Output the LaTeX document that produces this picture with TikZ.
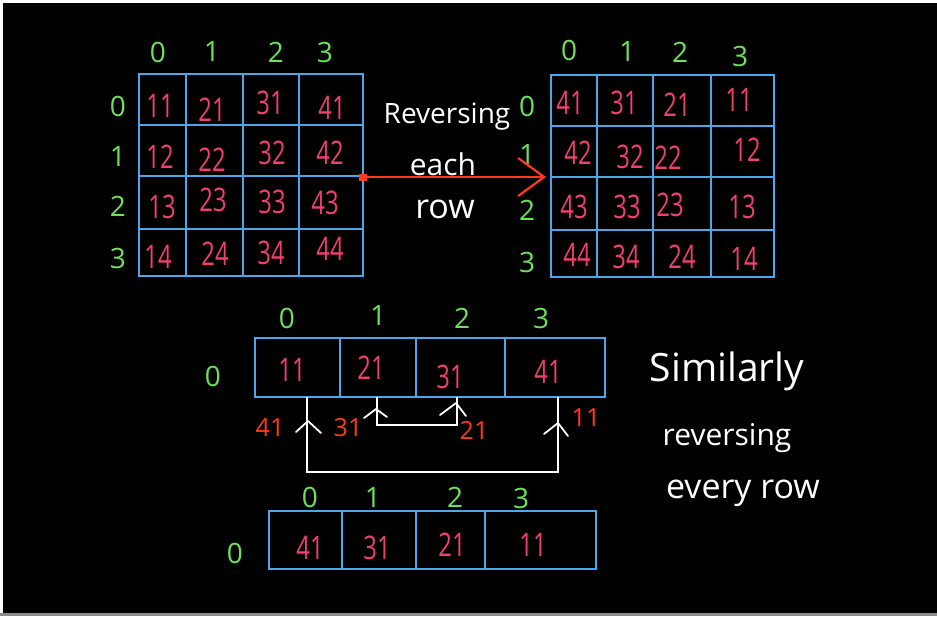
\documentclass[tikz,border=0pt]{standalone}
\usepackage{fontspec}
\setmainfont{Open Sans}
\usetikzlibrary{arrows.meta}
\definecolor{bluec}{HTML}{4DA6E8}
\definecolor{pinkc}{HTML}{F0406E}
\definecolor{greenc}{HTML}{6EE05A}
\definecolor{redc}{HTML}{FF3A1A}
\newcommand\tallnum[1]{\scalebox{0.95}[1.3]{#1}}
\newcommand\fsz[1]{\fontsize{#1}{#1}\selectfont}
\begin{document}
\begin{tikzpicture}[x=1pt,y=-1pt,
  grid/.style={draw=bluec,line width=2pt},
  num/.style={text=pinkc,font=\fsz{25},inner sep=0pt},
  idx/.style={text=greenc,font=\fsz{28},inner sep=0pt},
  rlab/.style={text=redc,font=\fsz{25},inner sep=0pt},
  wtext/.style={text=white,inner sep=0pt},
  wline/.style={draw=white,line width=1.8pt},
  chev/.style={draw=white,line width=1.8pt,line cap=round,line join=round}]
\useasboundingbox (0,0) rectangle (937,616);
\fill[white] (0,0) rectangle (937,616);
\fill[black] (3,3) rectangle (937,613);
\fill[black!45] (0,613) rectangle (937,616);

% ---------- left 4x4 grid ----------
\draw[grid] (139,74) rectangle (363,276);
\foreach \x in {186,243,299} \draw[grid] (\x,74) -- (\x,276);
\foreach \y in {125,176,229} \draw[grid] (139,\y) -- (363,\y);
\foreach \t/\x/\y [count=\i] in {0/158/52,1/212/52,2/276/52,3/325/52}
  \node[idx] (lc\i) at (\x,\y) {\t};
\foreach \t/\x/\y [count=\i] in {0/118/106,1/118/157,2/118/206,3/118/258}
  \node[idx] (lr\i) at (\x,\y) {\t};
\foreach \t/\x/\y [count=\i] in {11/160/106,21/212/110,31/270/103,41/332/108,
  12/160/157,22/212/160,32/272/153,42/330/153,
  13/162/207,23/213/200,33/272/202,43/325/203,
  14/158/257,24/215/254,34/271/253,44/330/249}
  \node[num] (L\i) at (\x,\y) {\tallnum{\t}};

% ---------- right 4x4 grid ----------
\draw[grid] (551,75) rectangle (774,277);
\foreach \x in {597,653,711} \draw[grid] (\x,75) -- (\x,277);
\foreach \y in {126,177,230} \draw[grid] (551,\y) -- (774,\y);
\foreach \t/\x/\y [count=\i] in {0/569/50,1/627/52,2/680/52,3/740/56}
  \node[idx] (rc\i) at (\x,\y) {\t};
\foreach \t/\x/\y [count=\i] in {0/527/106,1/527/155,2/527/210,3/527/262}
  \node[idx] (rr\i) at (\x,\y) {\t};
\foreach \t/\x/\y [count=\i] in {41/570/103,31/624/103,21/677/105,11/739/100,
  42/578/153,32/630/157,22/668/158,12/747/150,
  43/574/207,33/627/207,23/670/205,13/742/207,
  44/577/255,34/626/257,24/682/257,14/744/259}
  \node[num] (R\i) at (\x,\y) {\tallnum{\t}};

% ---------- red arrow ----------
\coordinate (arS) at (363,177);
\coordinate (arE) at (546,177);
\fill[redc] (359,173.5) rectangle (367,180.5);
\draw[redc,line width=2.2pt,-{Straight Barb[length=26pt,width=38pt,line width=2.2pt]}] (arS) -- (arE);
\node[wtext,font=\fsz{28}] (tRev) at (447,117) {Reversing};
\node[wtext,font=\fsz{30}] (tEach) at (443,164) {each};
\node[wtext,font=\fsz{34}] (tRow) at (445,209) {row};

% ---------- middle 1x4 array ----------
\draw[grid] (255,338) rectangle (605,397);
\foreach \x in {340,416,505} \draw[grid] (\x,338) -- (\x,397);
\foreach \t/\x/\y [count=\i] in {0/287/318,1/378/316,2/462/318,3/541/318}
  \node[idx] (mc\i) at (\x,\y) {\t};
\node[idx] (mr) at (213,376) {0};
\foreach \t/\x/\y [count=\i] in {11/292/370,21/371/368,31/450/377,41/548/372}
  \node[num] (M\i) at (\x,\y) {\tallnum{\t}};

% swap connectors
\coordinate (b0) at (307,397);
\coordinate (b1) at (377,397);
\coordinate (b2) at (457,397);
\coordinate (b3) at (558,397);
\coordinate (o0) at (307,472);
\coordinate (o3) at (558,472);
\coordinate (i1) at (377,425);
\coordinate (i2) at (457,425);
\draw[wline] (b3) -- (o3) -- (o0) -- (b0);
\draw[wline] (b1) -- (i1) -- (i2) -- (b2);
\draw[chev] (296,432) -- (308,421) -- (321,433);
\draw[chev] (544,434) -- (558,423) -- (568,436);
\draw[chev] (364,418) -- (376,409) -- (387,417);
\draw[chev] (440,415) -- (456,403) -- (466,416);
\node[rlab] (x41) at (270,428) {41};
\node[rlab] (x31) at (348,428) {31};
\node[rlab] (x21) at (474,430) {21};
\node[rlab] (x11) at (586,418) {11};

% ---------- bottom 1x4 array ----------
\draw[grid] (269,511) rectangle (596,569);
\foreach \x in {342,416,485} \draw[grid] (\x,511) -- (\x,569);
\foreach \t/\x/\y [count=\i] in {0/310/497,1/373/497,2/455/497,3/521/498}
  \node[idx] (nc\i) at (\x,\y) {\t};
\node[idx] (nr) at (235,553) {0};
\foreach \t/\x/\y [count=\i] in {41/310/548,31/377/548,21/452/545,11/533/545}
  \node[num] (N\i) at (\x,\y) {\tallnum{\t}};

% ---------- side text ----------
\node[wtext,font=\fsz{39}] (s1) at (727,371) {Similarly};
\node[wtext,font=\fsz{30}] (s2) at (727,438) {reversing};
\node[wtext,font=\fsz{34}] (s3) at (743,493) {every row};
\end{tikzpicture}
\end{document}
